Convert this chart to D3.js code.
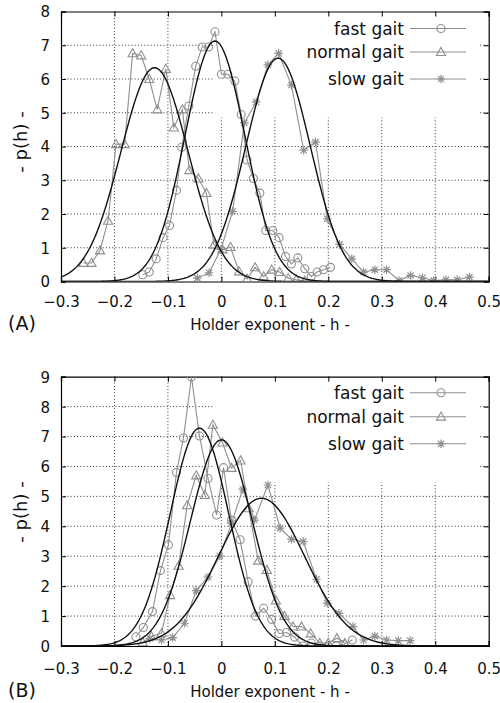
<!DOCTYPE html>
<html>
<head>
<meta charset="utf-8">
<script src="https://cdn.jsdelivr.net/npm/d3@7"></script>
<style>
  html, body { margin: 0; padding: 0; background: #fff; }
  svg { display: block; }
  text { font-family: "DejaVu Sans", "Liberation Sans", sans-serif; fill: #111; }
</style>
</head>
<body>
<svg id="chart" width="500" height="703"></svg>
<script>
// ---------- DATA ----------
const seriesNames = ["fast gait", "normal gait", "slow gait"];
const xTicks = [-0.3, -0.2, -0.1, 0, 0.1, 0.2, 0.3, 0.4, 0.5];
const yTicksA = [0, 1, 2, 3, 4, 5, 6, 7, 8];
const yTicksB = [0, 1, 2, 3, 4, 5, 6, 7, 8, 9];
const panelLabels = ["(A)", "(B)"];

// Panel A — empirical distributions [h, p(h)]
const fastA = [[-0.147,0.2],[-0.135,0.28],[-0.122,0.67],[-0.109,1.3],[-0.097,1.66],[-0.084,2.7],
  [-0.074,3.98],[-0.061,5.2],[-0.048,6.38],[-0.036,6.95],[-0.024,6.95],[-0.012,7.4],[0.0,6.14],
  [0.012,6.14],[0.025,5.94],[0.037,4.95],[0.048,3.6],[0.060,3.05],[0.072,2.62],[0.083,1.51],
  [0.096,1.51],[0.108,1.3],[0.120,0.74],[0.131,0.52],[0.143,0.7],[0.156,0.38],[0.168,0.15],
  [0.179,0.28],[0.191,0.35],[0.204,0.42]];
const normalA = [[-0.258,0.55],[-0.243,0.55],[-0.227,0.92],[-0.212,1.8],[-0.197,4.07],[-0.181,4.07],
  [-0.166,6.76],[-0.150,6.7],[-0.135,6.0],[-0.120,5.1],[-0.104,6.3],[-0.089,4.56],[-0.073,5.1],
  [-0.060,3.3],[-0.043,3.05],[-0.028,2.62],[-0.014,1.09],[0.002,0.95],[0.017,1.02],[0.033,0.3],
  [0.048,0.08],[0.063,0.42],[0.079,0.15],[0.094,0.35],[0.109,0.28],[0.125,0.1],[0.140,0.05],[0.156,0.02]];
const slowA = [[-0.045,0.1],[-0.023,0.26],[-0.001,0.95],[0.021,2.08],[0.043,4.7],[0.065,5.32],
  [0.087,6.42],[0.107,6.76],[0.131,5.82],[0.154,3.89],[0.176,4.13],[0.198,1.86],[0.221,1.1],
  [0.244,0.67],[0.266,0.28],[0.287,0.35],[0.309,0.35],[0.332,0.03],[0.354,0.18],[0.376,0.11],
  [0.397,0.03],[0.420,0.05],[0.441,0.05],[0.464,0.13]];

// Panel B — empirical distributions [h, p(h)]
const fastB = [[-0.160,0.31],[-0.146,0.62],[-0.129,1.15],[-0.114,2.52],[-0.099,3.38],[-0.084,5.8],
  [-0.071,6.95],[-0.056,8.99],[-0.041,7.02],[-0.025,5.6],[-0.009,4.38],[0.004,5.96],[0.019,4.2],
  [0.035,3.55],[0.050,2.15],[0.064,1.0],[0.079,1.26],[0.094,0.89],[0.108,0.42],[0.122,0.45],
  [0.137,0.3],[0.152,0.0],[0.168,0.1],[0.183,0.0],[0.199,0.0],[0.215,0.0],[0.229,0.05],[0.245,0.2]];
const normalB = [[-0.147,0.12],[-0.131,0.32],[-0.112,0.43],[-0.096,1.7],[-0.080,2.68],[-0.064,4.7],
  [-0.047,5.7],[-0.031,5.05],[-0.016,7.39],[0.002,6.8],[0.019,5.95],[0.036,6.2],[0.051,4.6],
  [0.069,2.85],[0.085,2.54],[0.102,1.52],[0.118,1.0],[0.134,0.65],[0.150,0.65],[0.167,0.42],
  [0.184,0.1],[0.200,0.1],[0.216,0.26],[0.231,0.1]];
const slowB = [[-0.134,0.25],[-0.112,0.2],[-0.091,0.28],[-0.069,0.76],[-0.047,1.85],[-0.025,2.3],
  [-0.003,3.01],[0.019,4.1],[0.040,5.24],[0.062,4.21],[0.087,5.38],[0.110,3.94],[0.131,3.57],
  [0.153,3.49],[0.178,2.23],[0.198,1.43],[0.220,1.09],[0.246,0.65],[0.266,0.2],[0.287,0.33],
  [0.309,0.2],[0.331,0.18],[0.353,0.18]];

// Gaussian fit parameters (mean, std) for fast / normal / slow
const fitMeanA = [-0.012, -0.125, 0.106];
const fitSdA   = [0.056, 0.063, 0.0603];
const fitMeanB = [-0.041, 0.0, 0.075];
const fitSdB   = [0.0548, 0.0579, 0.0808];

// ---------- DRAW ----------
const svg = d3.select("#chart");
const GRAY = "#8f8f8f";
const x = d3.scaleLinear().domain([-0.3, 0.5]).range([61, 488.7]);

function gaussCurve(mu, sd) {
  const pts = [];
  for (let i = 0; i <= 400; i++) {
    const h = -0.3 + 0.8 * i / 400;
    pts.push([h, Math.exp(-0.5 * ((h - mu) / sd) ** 2) / (sd * Math.sqrt(2 * Math.PI))]);
  }
  return pts;
}

function marker(g, type, cx, cy) {
  if (type === 0) {
    g.append("circle").attr("cx", cx).attr("cy", cy).attr("r", 4)
      .attr("fill", "none").attr("stroke", GRAY).attr("stroke-width", 1.1);
  } else if (type === 1) {
    const s = 4.6;
    g.append("path")
      .attr("d", `M${cx},${cy - s}L${cx + s},${cy + s * 0.75}L${cx - s},${cy + s * 0.75}Z`)
      .attr("fill", "none").attr("stroke", GRAY).attr("stroke-width", 1.1);
  } else {
    const s = 4.3, d = 3.1;
    g.append("path")
      .attr("d", `M${cx - s},${cy}L${cx + s},${cy}M${cx},${cy - s}L${cx},${cy + s}` +
                 `M${cx - d},${cy - d}L${cx + d},${cy + d}M${cx - d},${cy + d}L${cx + d},${cy - d}`)
      .attr("fill", "none").attr("stroke", GRAY).attr("stroke-width", 1.2);
  }
}

function panel(opts) {
  const { yMax, yTop, yBot, yTicks, data, means, sds, label, tickBase, labelBase, yLabelY, legendOffs } = opts;
  const y = d3.scaleLinear().domain([0, yMax]).range([yBot, yTop]);
  const g = svg.append("g");
  const clipId = "clip" + label.replace(/\W/g, "");
  svg.append("clipPath").attr("id", clipId).append("rect")
    .attr("x", x(-0.3)).attr("y", y(yMax)).attr("width", x(0.5) - x(-0.3)).attr("height", y(0) - y(yMax));

  // grid
  const grid = g.append("g").attr("stroke", "#000").attr("stroke-width", 0.8).attr("stroke-dasharray", "1,2.2");
  xTicks.slice(1, -1).forEach(t => grid.append("line")
    .attr("x1", x(t)).attr("x2", x(t)).attr("y1", y(0)).attr("y2", y(yMax)));
  yTicks.slice(1, -1).forEach(t => grid.append("line")
    .attr("x1", x(-0.3)).attr("x2", x(0.5)).attr("y1", y(t)).attr("y2", y(t)));

  // opaque key box
  const boxL = 213, boxR = 478, boxT = y(yMax) + 0.5, boxB = y(yMax) + 106;
  g.append("rect").attr("x", boxL).attr("y", boxT).attr("width", boxR - boxL).attr("height", boxB - boxT)
    .attr("fill", "#fff");

  // axes (D3 axes, inward ticks)
  const axB = g.append("g").attr("transform", `translate(0,${y(0)})`)
    .call(d3.axisBottom(x).tickValues(xTicks).tickSize(-5).tickFormat(d3.format("")));
  const axT = g.append("g").attr("transform", `translate(0,${y(yMax)})`)
    .call(d3.axisTop(x).tickValues(xTicks).tickSize(-5).tickFormat(""));
  const axL = g.append("g").attr("transform", `translate(${x(-0.3)},0)`)
    .call(d3.axisLeft(y).tickValues(yTicks).tickSize(-5).tickFormat(d3.format("d")));
  const axR = g.append("g").attr("transform", `translate(${x(0.5)},0)`)
    .call(d3.axisRight(y).tickValues(yTicks).tickSize(-5).tickFormat(""));
  [axB, axT, axL, axR].forEach(a => {
    a.select(".domain").attr("stroke", "#000").attr("stroke-width", 1.2);
    a.selectAll(".tick line").attr("stroke", "#000").attr("stroke-width", 1);
  });
  axB.selectAll(".tick text").attr("font-size", 15).attr("font-family", "DejaVu Sans, sans-serif")
    .attr("fill", "#111").attr("y", 0).attr("dy", tickBase - y(0));
  axL.selectAll(".tick text").attr("font-size", 15).attr("font-family", "DejaVu Sans, sans-serif")
    .attr("fill", "#111").attr("x", -11).attr("dy", "0.36em");
  axB.selectAll(".tick text").text(d => d === 0 ? "0" : d3.format(".1f")(d));

  const plot = g.append("g").attr("clip-path", `url(#${clipId})`);
  const line = d3.line().x(d => x(d[0])).y(d => y(d[1]));

  // empirical series
  data.forEach((ser, i) => {
    plot.append("path").datum(ser).attr("d", line)
      .attr("fill", "none").attr("stroke", GRAY).attr("stroke-width", 1.1);
    ser.forEach(d => marker(plot, i, x(d[0]), y(d[1])));
  });
  // fitted curves
  means.forEach((m, i) => {
    plot.append("path").datum(gaussCurve(m, sds[i])).attr("d", line)
      .attr("fill", "none").attr("stroke", "#111").attr("stroke-width", 1.4);
  });

  // legend
  seriesNames.forEach((nm, i) => {
    const ly = y(yMax) + legendOffs[i];
    g.append("text").attr("x", 404).attr("y", ly).attr("dy", "0.36em")
      .attr("text-anchor", "end").attr("font-size", 17).text(nm);
    g.append("line").attr("x1", 410).attr("x2", 466).attr("y1", ly).attr("y2", ly)
      .attr("stroke", GRAY).attr("stroke-width", 1.1);
    marker(g, i, 441, ly);
  });

  // labels
  g.append("text").attr("x", 8).attr("y", labelBase).attr("font-family", "Liberation Serif, Times New Roman, serif")
    .attr("font-size", 19).text(label);
  g.append("text").attr("x", 270).attr("y", labelBase).attr("text-anchor", "middle")
    .attr("font-size", 15).text("Holder exponent  - h -");
  g.append("text").attr("transform", `translate(27,${yLabelY}) rotate(-90)`).attr("text-anchor", "middle")
    .attr("font-size", 18).text("- p(h) -");
}

panel({ yMax: 8, yTop: 11.5, yBot: 281.5, yTicks: yTicksA, data: [fastA, normalA, slowA],
  means: fitMeanA, sds: fitSdA, label: panelLabels[0], tickBase: 307, labelBase: 330,
  yLabelY: 142, legendOffs: [17, 40.5, 67.5] });
panel({ yMax: 9, yTop: 376.7, yBot: 646, yTicks: yTicksB, data: [fastB, normalB, slowB],
  means: fitMeanB, sds: fitSdB, label: panelLabels[1], tickBase: 673.5, labelBase: 697,
  yLabelY: 512, legendOffs: [16, 40, 67] });
</script>
</body>
</html>
